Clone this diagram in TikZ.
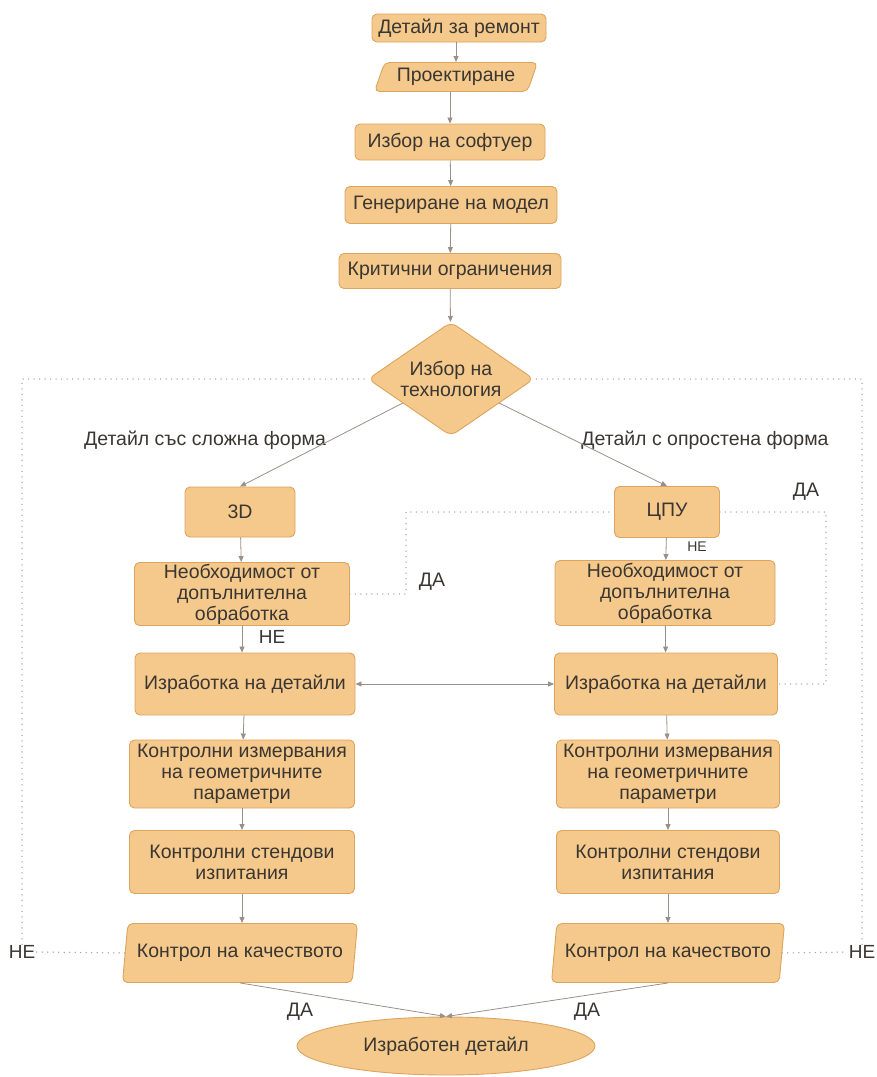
\documentclass[tikz,border=0pt]{standalone}
\usepackage{fontspec}
\setmainfont{Liberation Sans}
\usetikzlibrary{shapes.geometric,arrows.meta,calc}

\definecolor{boxfill}{HTML}{F5C98B}
\definecolor{boxdraw}{HTML}{DDA45E}
\definecolor{txt}{HTML}{3A3632}
\definecolor{arr}{HTML}{9A9088}
\definecolor{dotc}{HTML}{A8A29C}

\begin{document}
\begin{tikzpicture}[x=1pt,y=-1pt,
  base/.style={draw=boxdraw, fill=boxfill, line width=0.9pt, text=txt, align=center, inner sep=0pt},
  box/.style={base, rectangle, rounded corners=5pt},
  topfont/.style={font=\fontsize{19.5}{23}\selectfont},
  nfont/.style={font=\fontsize{19.5}{21}\selectfont},
  iobox/.style={base, trapezium, trapezium stretches body, rounded corners=5pt},
  decision/.style={base, diamond, aspect=1.5, rounded corners=7pt},
  terminal/.style={base, ellipse},
  arrow/.style={draw=arr, line width=0.8pt, -{Triangle[length=6pt,width=5pt]}},
  dblarrow/.style={draw=arr, line width=0.8pt, {Triangle[length=6pt,width=5pt]}-{Triangle[length=6pt,width=5pt]}},
  dotline/.style={draw=dotc, line width=1.5pt, line cap=round, dash pattern=on 0pt off 5.5pt},
  lab/.style={text=txt, inner sep=1pt},
]
\useasboundingbox (0,0) rectangle (877,1077);

% central column
\node[box, topfont, minimum width=174pt, minimum height=28pt] (t1) at (459,28) {Детайл за ремонт};
\node[iobox, topfont, trapezium left angle=60, trapezium right angle=120,
      minimum width=163pt, minimum height=29pt] (t2) at (456,77) {Проектиране};
\node[box, topfont, minimum width=190pt, minimum height=36pt] (t3) at (450,142) {Избор на софтуер};
\node[box, topfont, minimum width=212pt, minimum height=37pt] (t4) at (451,205) {Генериране на модел};
\node[box, topfont, minimum width=222pt, minimum height=35pt] (t5) at (450,271) {Критични ограничения};
\node[decision, nfont, minimum width=166pt, minimum height=114pt] (dia) at (451,379) {Избор на\\технология};

% left branch
\node[box, nfont, minimum width=110pt, minimum height=50pt] (d3) at (240,512) {3D};
\node[box, nfont, minimum width=215pt, minimum height=63pt] (needL) at (242,594) {Необходимост от\\допълнителна\\обработка};
\node[box, nfont, minimum width=220pt, minimum height=62pt] (makeL) at (245,684) {Изработка на детайли};
\node[box, nfont, minimum width=225pt, minimum height=68pt] (measL) at (242,774) {Контролни измервания\\на геометричните\\параметри};
\node[box, nfont, minimum width=225pt, minimum height=63pt] (standL) at (242,862) {Контролни стендови\\изпитания};
\node[iobox, nfont, trapezium left angle=73, trapezium right angle=107,
      minimum width=235pt, minimum height=59pt] (qcL) at (240,953) {Контрол на качеството};

% right branch
\node[box, nfont, minimum width=105pt, minimum height=51pt] (cpu) at (667,512) {ЦПУ};
\node[box, nfont, minimum width=220pt, minimum height=65pt] (needR) at (665,593) {Необходимост от\\допълнителна\\обработка};
\node[box, nfont, minimum width=223pt, minimum height=62pt] (makeR) at (666,684) {Изработка на детайли};
\node[box, nfont, minimum width=223pt, minimum height=68pt] (measR) at (668,774) {Контролни измервания\\на геометричните\\параметри};
\node[box, nfont, minimum width=223pt, minimum height=63pt] (standR) at (668,862) {Контролни стендови\\изпитания};
\node[iobox, nfont, trapezium left angle=73, trapezium right angle=107,
      minimum width=233pt, minimum height=59pt] (qcR) at (668,953) {Контрол на качеството};

% final state
\node[terminal, nfont, minimum width=298pt, minimum height=58pt] (fin) at (446,1046) {Изработен детайл};

% branch and answer labels
\node[lab, nfont] (formL) at (205,440) {Детайл със сложна форма};
\node[lab, nfont] (formR) at (705,440) {Детайл с опростена форма};
\node[lab, nfont] (yesL) at (432,582) {ДА};
\node[lab, nfont] (yesR) at (806,492) {ДА};
\node[lab, font=\fontsize{14}{16}\selectfont] (noR) at (697,547) {НЕ};
\node[lab, font=\fontsize{19}{21}\selectfont] (noL) at (272,637) {НЕ};
\node[lab, font=\fontsize{19}{21}\selectfont] (noQL) at (22,952) {НЕ};
\node[lab, font=\fontsize{19}{21}\selectfont] (noQR) at (862,952) {НЕ};
\node[lab, nfont] (okL) at (300,1012) {ДА};
\node[lab, nfont] (okR) at (587,1012) {ДА};

% helper x positions for the dotted returns
\coordinate (loopA) at (406,0);
\coordinate (loopB) at (826,0);

% main flow
\draw[arrow] (t1.south -| t2.north) -- (t2.north);
\draw[arrow] (t2.south -| t3.north) -- (t3);
\draw[arrow] (t3) -- (t4);
\draw[arrow] (t4) -- (t5);
\draw[arrow] (t5) -- (dia);
\draw[arrow] ($(dia.west)!0.42!(dia.south)$) -- (d3.north);
\draw[arrow] ($(dia.east)!0.42!(dia.south)$) -- (cpu.north);

\draw[arrow] (d3) -- (needL);
\draw[arrow] (needL) -- (makeL.north -| needL.south);
\draw[arrow] (makeL) -- (measL);
\draw[arrow] (measL) -- (standL);
\draw[arrow] (standL) -- (qcL.north -| standL.south);

\draw[arrow] (cpu) -- (needR);
\draw[arrow] (needR) -- (makeR);
\draw[arrow] (makeR) -- (measR);
\draw[arrow] (measR) -- (standR);
\draw[arrow] (standR) -- (qcR);

\draw[dblarrow] (makeL.east) -- (makeR.west);

\draw[arrow] (qcL.south) -- (fin.north);
\draw[arrow] (qcR.south) -- (fin.north);

% dotted returns
\draw[dotline] (needL.east) -| (cpu.west -| loopA) -- (cpu.west);
\draw[dotline] (cpu.east) -- (cpu.east -| loopB) |- (makeR.east);
\draw[dotline] (qcL.west) -- (noQL.east);
\draw[dotline] (noQL.north) |- (dia.west);
\draw[dotline] (qcR.east) -- (noQR.west);
\draw[dotline] (noQR.north) |- (dia.east);
\end{tikzpicture}
\end{document}
